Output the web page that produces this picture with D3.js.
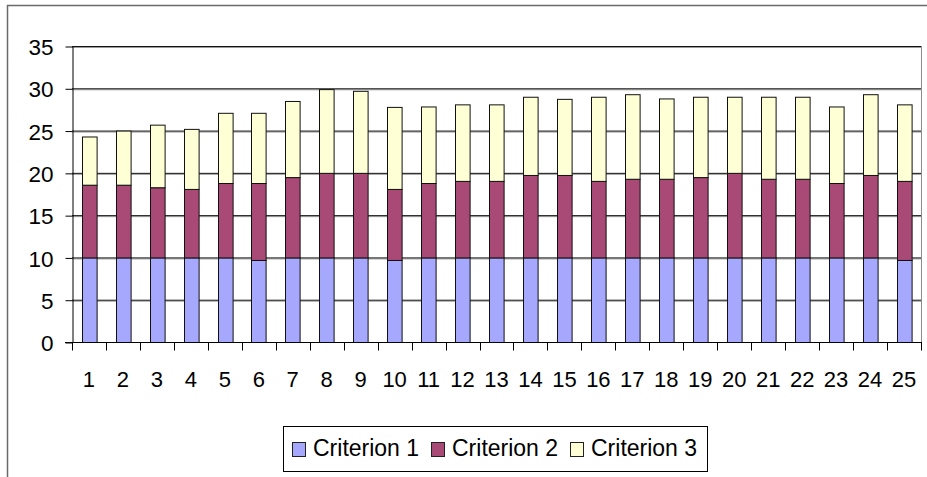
<!DOCTYPE html>
<html>
<head>
<meta charset="utf-8">
<script src="https://cdn.jsdelivr.net/npm/d3@7"></script>
<style>
  body { margin: 0; background: #fff; }
  text { font-family: Arial, "Liberation Sans", sans-serif; fill: #000; }
</style>
</head>
<body>
<svg width="927" height="477"></svg>
<script>
// values
const categories = d3.range(1, 26).map(String);
const criterion1 = [10, 10, 10, 10, 10, 9.7, 10, 10, 10, 9.7, 10, 10, 10, 10, 10, 10, 10, 10, 10, 10, 10, 10, 10, 10, 9.7];
const criterion2 = [8.6, 8.6, 8.3, 8.1, 8.8, 9.1, 9.5, 10, 10, 8.4, 8.8, 9.05, 9.05, 9.75, 9.75, 9.05, 9.3, 9.3, 9.5, 10, 9.3, 9.3, 8.8, 9.75, 9.35];
const criterion3 = [5.7, 6.4, 7.4, 7.1, 8.3, 8.3, 9.0, 9.9, 9.7, 9.7, 9.05, 9.05, 9.05, 9.25, 9.0, 9.95, 10.0, 9.5, 9.5, 9.0, 9.7, 9.7, 9.05, 9.55, 9.05];
const seriesNames = ["Criterion 1", "Criterion 2", "Criterion 3"];
const yTicks = [0, 5, 10, 15, 20, 25, 30, 35];

const colors = ["#a6a8fd", "#a84a75", "#ffffd5"];

const svg = d3.select('svg');

// outer chart frame (right / bottom edges fall outside the picture)
svg.append('path')
    .attr('d', 'M7.5,477 V5.5 H927')
    .attr('fill', 'none')
    .attr('stroke', '#6a6a6a')
    .attr('stroke-width', 1.5);

const plot = {left: 72, right: 921, top: 46, bottom: 342};

const table = categories.map((c, i) => ({
    cat: c,
    "Criterion 1": criterion1[i],
    "Criterion 2": criterion2[i],
    "Criterion 3": criterion3[i]
}));

const stacked = d3.stack().keys(seriesNames)(table);

const x = d3.scaleBand()
    .domain(categories)
    .range([plot.left, plot.right])
    .paddingInner(0.57)
    .paddingOuter(0.285);

const xCat = d3.scaleBand()
    .domain(categories)
    .range([plot.left, plot.right]);

const y = d3.scaleLinear()
    .domain([0, 35])
    .range([plot.bottom, plot.top]);

const color = d3.scaleOrdinal().domain(seriesNames).range(colors);

// gridlines
const grid = svg.append('g');
yTicks.filter(t => t > 0).forEach(t => {
    grid.append('line')
        .attr('x1', plot.left).attr('x2', plot.right)
        .attr('y1', y(t) + 1.5).attr('y2', y(t) + 1.5)
        .attr('stroke', '#9a9a9a').attr('stroke-width', 1);
    grid.append('line')
        .attr('x1', plot.left).attr('x2', plot.right)
        .attr('y1', y(t) + 0.5).attr('y2', y(t) + 0.5)
        .attr('stroke', '#111').attr('stroke-width', 1);
});

// plot area right edge
svg.append('line')
    .attr('x1', plot.right + 0.5).attr('x2', plot.right + 0.5)
    .attr('y1', plot.top).attr('y2', plot.bottom)
    .attr('stroke', '#8c8c8c');

// bars
const layers = svg.append('g').selectAll('g')
    .data(stacked)
    .enter()
    .append('g')
    .attr('fill', d => color(d.key));

layers.selectAll('rect')
    .data(d => d)
    .enter()
    .append('rect')
    .attr('x', d => Math.round(x(d.data.cat)) + 0.5)
    .attr('y', d => y(d[1]) + 0.5)
    .attr('width', x.bandwidth())
    .attr('height', d => y(d[0]) - y(d[1]))
    .attr('stroke', '#111')
    .attr('stroke-width', 1);

// y axis
const yaxisG = svg.append('g')
    .attr('transform', 'translate(' + (plot.left + 0.5) + ',0.5)')
    .call(d3.axisLeft(y).tickValues(yTicks).tickSize(7).tickPadding(12).tickSizeOuter(0));

yaxisG.select('.domain').attr('stroke', '#000');
yaxisG.selectAll('.tick line').attr('stroke', '#000');
yaxisG.selectAll('text')
    .style('font-size', '22.5px')
    .attr('dy', '0.36em');

// x axis: ticks on category boundaries
const xaxisG = svg.append('g')
    .attr('transform', 'translate(0,' + (plot.bottom + 0.5) + ')');

xaxisG.append('line')
    .attr('x1', plot.left - 7).attr('x2', plot.right + 1)
    .attr('stroke', '#000');

const bounds = categories.map(c => xCat(c)).concat([plot.right]);
xaxisG.selectAll('.xtick')
    .data(bounds)
    .enter()
    .append('line')
    .attr('class', 'xtick')
    .attr('x1', d => Math.round(d) + 0.5)
    .attr('x2', d => Math.round(d) + 0.5)
    .attr('y1', 0).attr('y2', 8)
    .attr('stroke', '#000');

xaxisG.selectAll('.xlabel')
    .data(categories)
    .enter()
    .append('text')
    .attr('class', 'xlabel')
    .attr('x', d => xCat(d) + xCat.bandwidth() / 2)
    .attr('y', 44)
    .attr('text-anchor', 'middle')
    .style('font-size', '22px')
    .text(d => d);

// legend
const legend = svg.append('g');
legend.append('rect')
    .attr('x', 283.5).attr('y', 426.5)
    .attr('width', 424).attr('height', 45)
    .attr('fill', '#fff')
    .attr('stroke', '#000');

const legendX = [292, 431, 570];
seriesNames.forEach((name, i) => {
    legend.append('rect')
        .attr('x', legendX[i] + 0.5).attr('y', 442.5)
        .attr('width', 13).attr('height', 14)
        .attr('fill', colors[i])
        .attr('stroke', '#222');
    legend.append('text')
        .attr('x', legendX[i] + 21)
        .attr('y', 456)
        .style('font-size', '23px')
        .text(name);
});
</script>
</body>
</html>
